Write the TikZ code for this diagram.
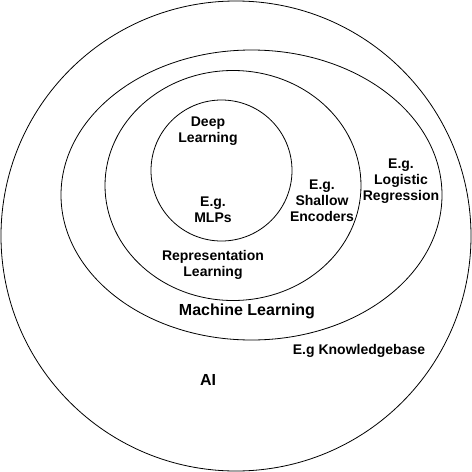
\documentclass[tikz,border=0pt]{standalone}
\usepackage{fontspec}
\setmainfont{Liberation Sans}
\usepackage{tikz}

\begin{document}
\begin{tikzpicture}[x=1pt,y=-1pt,
	lbl/.style={font=\bfseries\fontsize{14}{16}\selectfont,align=center,inner sep=0pt},
	biglbl/.style={font=\bfseries\fontsize{16}{19}\selectfont,inner sep=0pt}]
	\useasboundingbox (0,0) rectangle (472,472);
	
	%circles
	\draw[line width=0.8pt] (236,236) circle (235);
	\draw[line width=0.8pt] (251.5,195) ellipse [x radius=190.5,y radius=145];
	\draw[line width=0.8pt] (233,185.5) ellipse [x radius=128,y radius=115];
	\draw[line width=0.8pt] (221.5,170.5) circle (70.5);
	
	%deep learning
	\node[lbl] (deep) at (208,131) {Deep\\Learning};
	\node[lbl] (mlp) at (213,210) {E.g.\\MLPs};
	%
	\node[lbl] (shallow) at (322,201) {E.g.\\Shallow\\Encoders};
	\node[lbl] (repr) at (213,265) {Representation\\Learning};
	%
	\node[lbl] (logreg) at (401,181) {E.g.\\Logistic\\Regression};
	\node[biglbl] (ml) at (247,311) {Machine Learning};
	%
	\node[lbl] (kb) at (359,351) {E.g Knowledgebase};
	\node[biglbl] (ai) at (208,380) {AI};
\end{tikzpicture}
\end{document}
